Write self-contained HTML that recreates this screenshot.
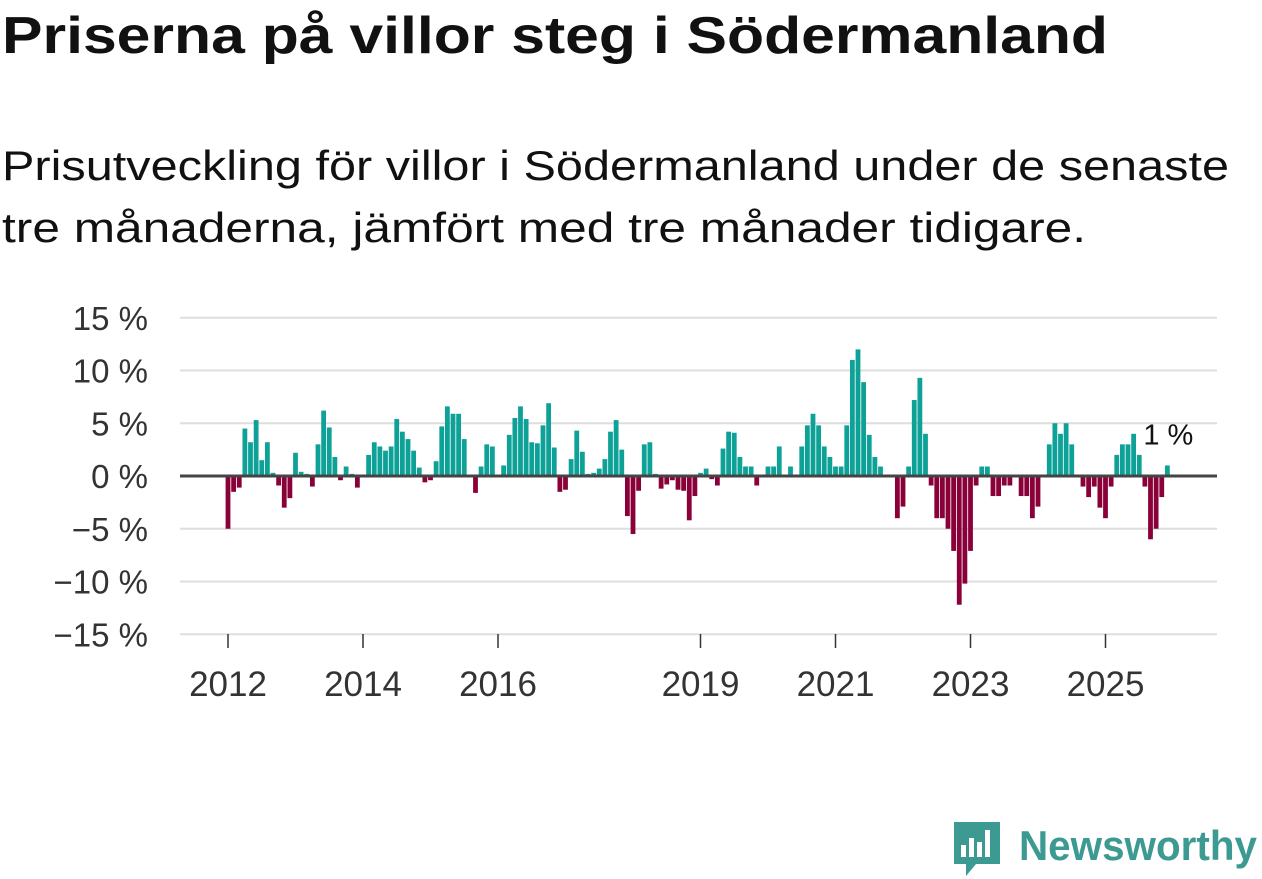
<!DOCTYPE html>
<html><head><meta charset="utf-8"><style>
body{margin:0;background:#fff;width:1262px;height:879px;overflow:hidden;font-family:"Liberation Sans",sans-serif;color:#111}
.fit{position:absolute;left:2px;margin:0;white-space:nowrap;transform-origin:0 0}
#title{top:6px;font-size:52px;font-weight:bold}
#sub1{top:142px;font-size:42px}
#sub2{top:204px;font-size:42px}
svg{position:absolute;left:0;top:0}
</style></head><body>
<h1 id="title" class="fit" data-target="1106">Priserna på villor steg i Södermanland</h1>
<div>
<p id="sub1" class="fit" data-target="1227">Prisutveckling för villor i Södermanland under de senaste</p>
<p id="sub2" class="fit" data-target="1084">tre månaderna, jämfört med tre månader tidigare.</p>
</div>
<svg id="chart" width="1262" height="879"></svg>
<script>
const values=[-5,-1.5,-1.1,4.5,3.2,5.3,1.5,3.2,0.3,-0.9,-3,-2.1,
2.2,0.4,0.2,-1,3,6.2,4.6,1.8,-0.4,0.9,0.2,-1.1,
0,2,3.2,2.8,2.4,2.8,5.4,4.2,3.5,2.4,0.8,-0.6,
-0.4,1.4,4.7,6.6,5.9,5.9,3.5,0,-1.6,0.9,3,2.8,
0,1,3.9,5.5,6.6,5.4,3.2,3.1,4.8,6.9,2.7,-1.5,
-1.3,1.6,4.3,2.3,0.2,0.3,0.7,1.6,4.2,5.3,2.5,-3.8,
-5.5,-1.4,3,3.2,0.2,-1.2,-0.8,-0.4,-1.3,-1.4,-4.2,-1.9,
0.3,0.7,-0.3,-0.9,2.6,4.2,4.1,1.8,0.9,0.9,-0.9,0,
0.9,0.9,2.8,0,0.9,0,2.8,4.8,5.9,4.8,2.8,1.8,
0.9,0.9,4.8,11,12,8.9,3.9,1.8,0.9,0,0,-4,
-2.9,0.9,7.2,9.3,4,-0.9,-4,-4,-5,-7.1,-12.2,-10.2,
-7.1,-0.9,0.9,0.9,-1.9,-1.9,-0.9,-0.9,0,-1.9,-1.9,-4,
-2.9,0,3,5,4,5,3,0,-1,-2,-1,-3,
-4,-1,2,3,3,4,2,-1,-6,-5,-2,1];
const yTicks=[15,10,5,0,-5,-10,-15];
const yTickLabels=["15 %","10 %","5 %","0 %","−5 %","−10 %","−15 %"];
const xTicks=[2012,2014,2016,2019,2021,2023,2025];
const lastLabel="1 %";
document.querySelectorAll('.fit').forEach(e=>{const w=e.getBoundingClientRect().width;e.style.transform='scaleX('+(+e.dataset.target/w)+')';});
const NS="http://www.w3.org/2000/svg";
const svg=document.getElementById('chart');
const y=v=>476-v*10.55;
const x=i=>228+i*5.625;
function mk(t,a){const e=document.createElementNS(NS,t);for(const k in a)e.setAttribute(k,a[k]);svg.appendChild(e);return e;}
yTicks.forEach((t,i)=>{
 if(t!==0){const g=mk('line',{x1:180,x2:1217,y1:y(t),y2:y(t),stroke:'#dedede','stroke-width':2});
 
 }
 const l=mk('text',{x:148,y:y(t)+12,'text-anchor':'end','font-size':33,fill:'#333'});
 l.textContent=yTickLabels[i];
 
 
});
values.forEach((v,i)=>{
 const h=Math.abs(v*10.55);
 const r=mk('rect',{x:x(i)-2.4,y:v>=0?y(v):y(0),width:4.8,height:h,fill:v>=0?'#0ea197':'#8a0038'});
 
 
});
const ax=mk('line',{x1:180,x2:1217,y1:476,y2:476,stroke:'#444','stroke-width':3});


xTicks.forEach(yr=>{
 const xx=x((yr-2012)*12);
 const tk=mk('line',{x1:xx,x2:xx,y1:634,y2:648,stroke:'#333','stroke-width':1.5});
 
 
 const t=mk('text',{x:xx,y:696,'text-anchor':'middle','font-size':35,fill:'#333'});
 t.textContent=yr;
 
 
});
const li=values.length-1;
const lab=mk('text',{x:x(li)+1,y:y(values[li])-21,'text-anchor':'middle','font-size':29,fill:'#111'});
lab.textContent=lastLabel;


const lg=mk('g',{});


lg.innerHTML='<path d="M954 822h46v42h-24l-10 12v-12h-12z" fill="#3d9a92"/><rect x="961" y="845" width="5" height="12" fill="#fff"/><rect x="969" y="838" width="5" height="19" fill="#fff"/><rect x="977" y="842" width="5" height="15" fill="#fff"/><rect x="985" y="830" width="5" height="27" fill="#fff"/><text x="1019" y="860" font-size="42" font-weight="bold" fill="#3d9a92" textLength="238" lengthAdjust="spacingAndGlyphs">Newsworthy</text>';
</script>
</body></html>
